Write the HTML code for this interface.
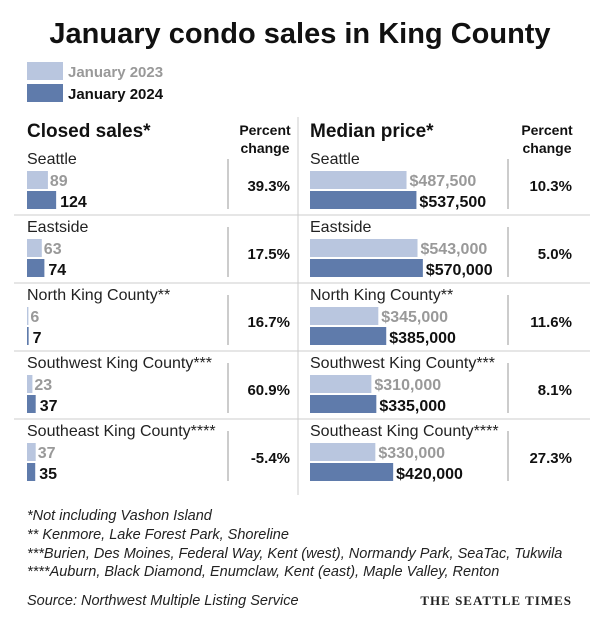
<!DOCTYPE html>
<html><head><meta charset="utf-8"><style>
body{margin:0;background:#fff;font-family:"Liberation Sans",sans-serif;}
svg text{font-family:"Liberation Sans",sans-serif;}
</style></head><body>
<svg width="602" height="625" viewBox="0 0 602 625" id="chart">
<text x="300" y="43" text-anchor="middle" font-size="29" font-weight="bold" fill="#111">January condo sales in King County</text>
<rect x="27" y="62" width="36" height="18" fill="#b9c6df"/>
<text x="68" y="77" font-size="15" font-weight="bold" fill="#999">January 2023</text>
<rect x="27" y="84" width="36" height="18" fill="#5f7bab"/>
<text x="68" y="99" font-size="15" font-weight="bold" fill="#111">January 2024</text>
<text x="27" y="137" font-size="19" font-weight="bold" fill="#111">Closed sales*</text>
<text x="265" y="135" text-anchor="middle" font-size="14" font-weight="bold" fill="#111"><tspan x="265">Percent</tspan><tspan x="265" dy="18">change</tspan></text>
<text x="310" y="137" font-size="19" font-weight="bold" fill="#111">Median price*</text>
<text x="547" y="135" text-anchor="middle" font-size="14" font-weight="bold" fill="#111"><tspan x="547">Percent</tspan><tspan x="547" dy="18">change</tspan></text>
<line x1="298" y1="117" x2="298" y2="495" stroke="#ccc"/>
<g id="rows"></g>
<g font-size="14.5" font-style="italic" fill="#222">
<text x="27" y="520">*Not including Vashon Island</text>
<text x="27" y="539">** Kenmore, Lake Forest Park, Shoreline</text>
<text x="27" y="558">***Burien, Des Moines, Federal Way, Kent (west), Normandy Park, SeaTac, Tukwila</text>
<text x="27" y="576">****Auburn, Black Diamond, Enumclaw, Kent (east), Maple Valley, Renton</text>
</g>
<text x="27" y="605" font-size="14.5" font-style="italic" fill="#222">Source: Northwest Multiple Listing Service</text>
<text x="572" y="605" text-anchor="end" font-size="13" font-weight="bold" letter-spacing="1" fill="#222" font-family="Liberation Serif" style="font-family:'Liberation Serif',serif">THE SEATTLE TIMES</text>
</svg>
<script>
const regions=["Seattle","Eastside","North King County**","Southwest King County***","Southeast King County****"];
const sales2023=[89,63,6,23,37];
const sales2024=[124,74,7,37,35];
const salesChange=["39.3%","17.5%","16.7%","60.9%","-5.4%"];
const price2023=[487500,543000,345000,310000,330000];
const price2024=[537500,570000,385000,335000,420000];
const priceChange=["10.3%","5.0%","11.6%","8.1%","27.3%"];
const NS="http://www.w3.org/2000/svg";
const g=document.getElementById('rows');
const xs=v=>v*0.235;
const xp=v=>v*0.000198;
const fmt=v=>'$'+v.toLocaleString('en-US');
function el(t,a,txt){const e=document.createElementNS(NS,t);for(const k in a)e.setAttribute(k,a[k]);if(txt!==undefined)e.textContent=txt;g.appendChild(e);return e;}
regions.forEach((r,i)=>{
  const y0=147+i*68;
  if(i>0){
    const l1=el('line',{x1:14,x2:298,y1:y0,y2:y0,stroke:'#ccc'});
    
    
    const l2=el('line',{x1:298,x2:590,y1:y0,y2:y0,stroke:'#ccc'});
    
    
  }
  const n1=el('text',{x:27,y:y0+17,'font-size':16,fill:'#222'},r);
  
  
  const n2=el('text',{x:310,y:y0+17,'font-size':16,fill:'#222'},r);
  
  
  const w1=xs(sales2023[i]),w2=xs(sales2024[i]);
  const b1=el('rect',{x:27,y:y0+24,width:w1,height:18,fill:'#b9c6df'});
  
  
  const b2=el('rect',{x:27,y:y0+44,width:w2,height:18,fill:'#5f7bab'});
  
  
  const t1=el('text',{x:27+w1+2,y:y0+39,'font-size':16,'font-weight':'bold',fill:'#999'},sales2023[i]);
  
  
  const t2=el('text',{x:27+w2+4,y:y0+60,'font-size':16,'font-weight':'bold',fill:'#111'},sales2024[i]);
  
  
  const p1=el('rect',{x:310,y:y0+24,width:xp(price2023[i]),height:18,fill:'#b9c6df'});
  
  
  const p2=el('rect',{x:310,y:y0+44,width:xp(price2024[i]),height:18,fill:'#5f7bab'});
  
  
  const v1=el('text',{x:310+xp(price2023[i])+3,y:y0+39,'font-size':16,'font-weight':'bold',fill:'#999'},fmt(price2023[i]));
  
  
  const v2=el('text',{x:310+xp(price2024[i])+3,y:y0+60,'font-size':16,'font-weight':'bold',fill:'#111'},fmt(price2024[i]));
  
  
  const s1=el('line',{x1:228,x2:228,y1:y0+12,y2:y0+62,stroke:'#999'});
  
  
  const s2=el('line',{x1:508,x2:508,y1:y0+12,y2:y0+62,stroke:'#999'});
  
  
  const c1=el('text',{x:290,y:y0+44,'text-anchor':'end','font-size':15,'font-weight':'bold',fill:'#111'},salesChange[i]);
  
  
  const c2=el('text',{x:572,y:y0+44,'text-anchor':'end','font-size':15,'font-weight':'bold',fill:'#111'},priceChange[i]);
  
  
});
</script>
</body></html>
